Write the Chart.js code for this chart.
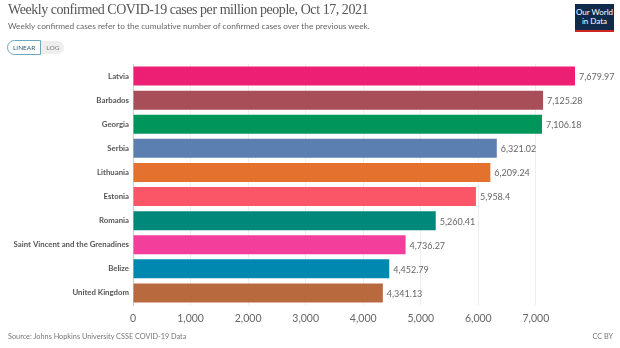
<!DOCTYPE html>
<html lang="en">
<head>
  <meta charset="UTF-8">
  <title>Weekly confirmed COVID-19 cases per million people</title>
  <script src="https://cdn.jsdelivr.net/npm/chart.js"></script>
  <style>
    body { margin: 0; background: #fff; }
    #wrap { position: relative; width: 620px; height: 348px; overflow: hidden; font-family: Lato, sans-serif; }
    #chart { position: absolute; left: 0; top: 0; }
    .title { position: absolute; left: 8px; top: 2px; font-family: "Liberation Serif", serif; font-size: 14px; letter-spacing: -0.45px; color: #555; white-space: nowrap; }
    .subtitle { position: absolute; left: 8px; top: 21px; font-size: 8.3px; color: #666; white-space: nowrap; }
    .toggle { position: absolute; left: 7px; top: 40px; display: flex; font-size: 6.5px; }
    .toggle span { display: inline-block; height: 13px; line-height: 13px; padding: 0 5px; }
    .toggle .on { border: 1px solid #6aa8bd; border-radius: 8px 0 0 8px; color: #2d5f72; background: #fff; }
    .toggle .off { background: #eee; color: #777; border-radius: 0 8px 8px 0; margin-top: 1px; }
    .logo { position: absolute; left: 575px; top: 4px; width: 39px; height: 28px; background: #102a4c; border-bottom: 2px solid #ce261e;
            color: #fff; font-size: 8px; line-height: 9px; text-align: center; padding-top: 4px; box-sizing: border-box; }
    .source { position: absolute; left: 8px; top: 332px; font-size: 7.3px; color: #777; }
    .license { position: absolute; right: 7px; top: 332px; font-size: 7.3px; color: #777; }
  </style>
</head>
<body>
<div id="wrap">
  <canvas id="chart" width="620" height="348"></canvas>
  <div class="title">Weekly confirmed COVID-19 cases per million people, Oct 17, 2021</div>
  <div class="subtitle">Weekly confirmed cases refer to the cumulative number of confirmed cases over the previous week.</div>
  <div class="toggle"><span class="on">LINEAR</span><span class="off">LOG</span></div>
  <div class="logo">Our World<br>in Data</div>
  <div class="source">Source: Johns Hopkins University CSSE COVID-19 Data</div>
  <div class="license">CC BY</div>
</div>

<script>
  const countries = ['Latvia', 'Barbados', 'Georgia', 'Serbia', 'Lithuania', 'Estonia', 'Romania',
    'Saint Vincent and the Grenadines', 'Belize', 'United Kingdom'];
  const cases = [7679.97, 7125.28, 7106.18, 6321.02, 6209.24, 5958.4, 5260.41, 4736.27, 4452.79, 4341.13];
  const barColors = ['#ec1f75', '#a84e58', '#00955a', '#5a7fb0', '#e5712e', '#fa5668', '#00897b',
    '#f43e9b', '#0088b0', '#b8693e'];
  const xTicks = [0, 1000, 2000, 3000, 4000, 5000, 6000, 7000];

  // value text at the end of each bar
  const valueLabels = {
    id: 'valueLabels',
    afterDatasetsDraw(chart) {
      const ctx = chart.ctx;
      const meta = chart.getDatasetMeta(0);
      ctx.save();
      ctx.font = '9px Lato';
      ctx.fillStyle = '#666';
      ctx.textBaseline = 'middle';
      meta.data.forEach((bar, i) => {
        ctx.fillText(cases[i].toLocaleString('en-US'), bar.x + 4, bar.y + 1);
      });
      ctx.restore();
    }
  };

  new Chart(document.getElementById('chart'), {
    type: 'bar',
    data: {
      labels: countries,
      datasets: [{
        data: cases,
        backgroundColor: barColors,
        barPercentage: 0.79,
        categoryPercentage: 1
      }]
    },
    options: {
      indexAxis: 'y',
      responsive: false,
      animation: false,
      layout: { padding: { top: 64, right: 45, bottom: 22, left: 0 } },
      plugins: { legend: { display: false }, tooltip: { enabled: false } },
      scales: {
        x: {
          min: 0,
          max: Math.max(...cases),
          afterBuildTicks: s => { s.ticks = xTicks.map(v => ({ value: v })); },
          afterFit: s => { s.height = 21; },
          grid: { color: '#eee', drawTicks: false },
          border: { display: false },
          ticks: { color: '#666', font: { family: 'Lato', size: 10.5 }, padding: 7,
                   callback: v => v.toLocaleString('en-US') }
        },
        y: {
          afterFit: s => { s.width = 133; },
          grid: { display: false, drawTicks: false },
          border: { display: true, color: '#ccc' },
          ticks: { color: '#555', font: { family: 'Lato', size: 7.8, weight: 'bold' }, padding: 4 }
        }
      }
    },
    plugins: [valueLabels]
  });
</script>
</body>
</html>
